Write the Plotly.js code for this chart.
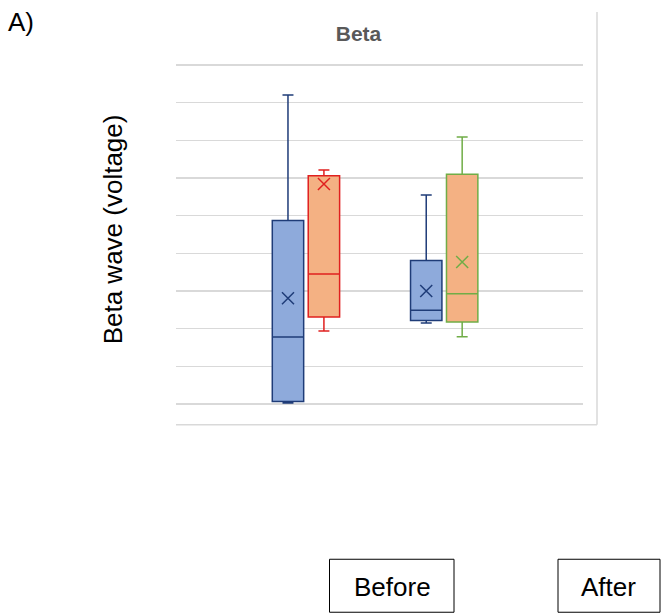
<!DOCTYPE html>
<html>
<head>
<meta charset="utf-8">
<script src="https://cdn.plot.ly/plotly-3.0.1.min.js"></script>
<style>html,body{margin:0;padding:0;background:#fff;}#chart{width:661px;height:614px;}</style>
</head>
<body>
<div id="chart"></div>
<script>
// ---- data ----
const seriesNames = ["Before", "After"];
const groupIndex = [0, 1];               // two unlabeled groups
const beforeLower  = [0.03, 2.15];
const beforeQ1     = [0.07, 2.22];
const beforeMedian = [1.78, 2.49];
const beforeQ3     = [4.87, 3.81];
const beforeUpper  = [8.20, 5.55];
const beforeMean   = [2.81, 3.00];
const afterLower   = [1.94, 1.79];
const afterQ1      = [2.31, 2.18];
const afterMedian  = [3.45, 2.93];
const afterQ3      = [6.06, 6.10];
const afterUpper   = [6.21, 7.09];
const afterMean    = [5.84, 3.77];

// ---- styles ----
const FONT = "Liberation Sans, Arial, sans-serif";
const beforeFill = "#8eaadb", beforeLine = ["#1f3c78", "#1f3c78"];
const afterFill  = "#f4b183", afterLine  = ["#e0201f", "#70ad47"];
const offset = 0.13, boxW = 0.227;

const traces = [];
const sets = [
  {name: seriesNames[0], lo: beforeLower, q1: beforeQ1, md: beforeMedian, q3: beforeQ3, hi: beforeUpper, mn: beforeMean, fill: beforeFill, line: beforeLine, dx: -offset},
  {name: seriesNames[1], lo: afterLower, q1: afterQ1, md: afterMedian, q3: afterQ3, hi: afterUpper, mn: afterMean, fill: afterFill, line: afterLine, dx: offset}
];
sets.forEach(s => {
  groupIndex.forEach((g, i) => {
    const xpos = g + s.dx;
    traces.push({
      type: "box", name: s.name, showlegend: false,
      x: [xpos], q1: [s.q1[i]], median: [s.md[i]], q3: [s.q3[i]],
      lowerfence: [s.lo[i]], upperfence: [s.hi[i]],
      width: boxW, whiskerwidth: 0.35,
      fillcolor: s.fill, line: {color: s.line[i], width: 1.5},
      hoverinfo: "skip"
    });
    traces.push({
      type: "scatter", mode: "markers", showlegend: false, hoverinfo: "skip",
      x: [xpos], y: [s.mn[i]],
      marker: {symbol: "x-thin", size: 12, line: {color: s.line[i], width: 1.5}, color: s.line[i]}
    });
  });
});

// plot-area geometry helpers (page px -> paper)
const L = 176, R = 78, T = 63.1, B = 207.8;
const W = 661 - L - R, H = 614 - T - B;
const px = p => (p - L) / W;
const py = p => (614 - B - p) / H;

const layout = {
  width: 661, height: 614,
  margin: {l: L, r: R, t: T, b: B, pad: 0},
  paper_bgcolor: "#ffffff", plot_bgcolor: "#ffffff",
  showlegend: false,
  font: {family: FONT, color: "#000"},
  title: {text: "<b>Beta</b>", font: {family: FONT, size: 21, color: "#595959"},
          xref: "container", x: 358.5 / 661, xanchor: "center",
          yref: "container", y: 1 - 33.5 / 614, yanchor: "middle"},
  xaxis: {range: [-0.94, 2.004], showgrid: false, zeroline: false, showticklabels: false,
          ticks: "", showline: false, fixedrange: true},
  yaxis: {range: [-0.05, 9.05], dtick: 1, tick0: 0, showgrid: true, gridcolor: "#d9d9d9", gridwidth: 1.5,
          zeroline: false, showticklabels: false, ticks: "", showline: false, fixedrange: true},
  shapes: [
    {type: "line", xref: "paper", yref: "paper", x0: px(176), x1: px(597), y0: py(425), y1: py(425), line: {color: "#d9d9d9", width: 1.5}},
    {type: "line", xref: "paper", yref: "paper", x0: px(597), x1: px(597), y0: py(425), y1: py(12), line: {color: "#d9d9d9", width: 1.5}},
    {type: "rect", xref: "paper", yref: "paper", x0: px(329.5), x1: px(454), y0: py(559.5), y1: py(612.5), line: {color: "#000", width: 1}},
    {type: "rect", xref: "paper", yref: "paper", x0: px(558), x1: px(660), y0: py(559.5), y1: py(612.5), line: {color: "#000", width: 1}}
  ],
  annotations: [
    {text: "A)", xref: "paper", yref: "paper", x: px(6), y: py(22), xanchor: "left", yanchor: "middle", showarrow: false, font: {family: FONT, size: 26, color: "#000"}},
    {text: "Beta wave (voltage)", xref: "paper", yref: "paper", x: px(112.5), y: py(230), xanchor: "center", yanchor: "middle", textangle: -90, showarrow: false, font: {family: FONT, size: 26, color: "#000"}},
    {text: seriesNames[0], xref: "paper", yref: "paper", x: px(392), y: py(587), xanchor: "center", yanchor: "middle", showarrow: false, font: {family: FONT, size: 26, color: "#000"}},
    {text: seriesNames[1], xref: "paper", yref: "paper", x: px(608.5), y: py(587), xanchor: "center", yanchor: "middle", showarrow: false, font: {family: FONT, size: 26, color: "#000"}}
  ]
};

Plotly.newPlot("chart", traces, layout, {staticPlot: true, displayModeBar: false});
</script>
</body>
</html>
